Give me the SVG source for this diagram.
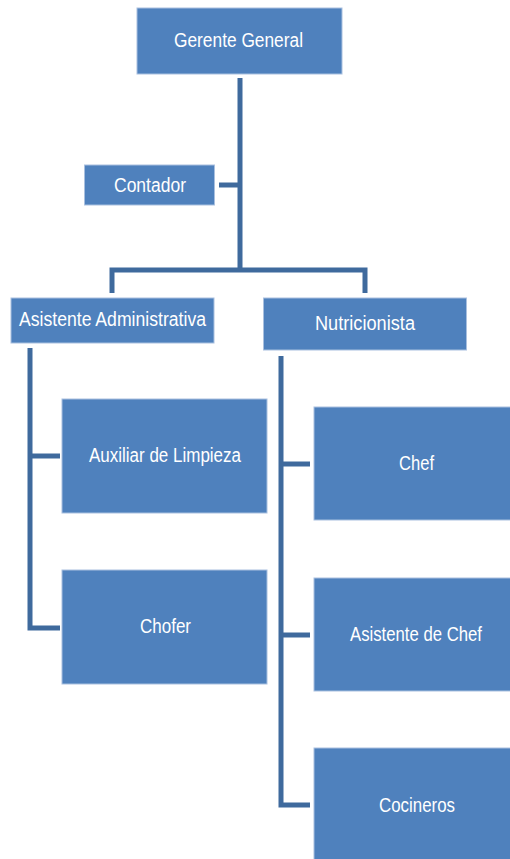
<svg xmlns="http://www.w3.org/2000/svg" width="510" height="859" viewBox="0 0 510 859">
  <style>
    .box { fill: #4F81BD; stroke: #A9C0DF; stroke-width: 1; }
    .lbl { fill: #FFFFFF; font-family: "Liberation Sans", Arial, sans-serif; font-size: 20px; text-anchor: middle; }
    .wire { fill: none; stroke: #3F6A9D; stroke-width: 5; stroke-linejoin: miter; }
  </style>
  <rect width="510" height="859" fill="#FFFFFF"/>

  <!-- connectors -->
  <g id="connectors">
    <path class="wire" d="M240 78 V270"/>
    <path class="wire" d="M219 185 H240"/>
    <path class="wire" d="M112 293 V270 H365 V293"/>
    <path class="wire" d="M30 348 V628 H60"/>
    <path class="wire" d="M30 456 H60"/>
    <path class="wire" d="M281 356 V805 H310"/>
    <path class="wire" d="M281 464 H310"/>
    <path class="wire" d="M281 635 H310"/>
  </g>

  <!-- organisation nodes -->
  <g id="gerente-general">
    <rect class="box" x="137" y="8" width="205" height="66"/>
    <text class="lbl" x="238.5" y="46.5" textLength="129" lengthAdjust="spacingAndGlyphs">Gerente  General</text>
  </g>
  <g id="contador">
    <rect class="box" x="84.5" y="165" width="130" height="40"/>
    <text class="lbl" x="150" y="192" textLength="72" lengthAdjust="spacingAndGlyphs">Contador</text>
  </g>
  <g id="asistente-administrativa">
    <rect class="box" x="11" y="298" width="203" height="45"/>
    <text class="lbl" x="112.5" y="326" textLength="187" lengthAdjust="spacingAndGlyphs">Asistente Administrativa</text>
  </g>
  <g id="nutricionista">
    <rect class="box" x="263.5" y="298" width="203" height="52"/>
    <text class="lbl" x="365" y="330" textLength="100" lengthAdjust="spacingAndGlyphs">Nutricionista</text>
  </g>
  <g id="auxiliar-limpieza">
    <rect class="box" x="62" y="399" width="205" height="114"/>
    <text class="lbl" x="165" y="462" textLength="152" lengthAdjust="spacingAndGlyphs">Auxiliar de Limpieza</text>
  </g>
  <g id="chofer">
    <rect class="box" x="62" y="570" width="205" height="114"/>
    <text class="lbl" x="165.5" y="633" textLength="51" lengthAdjust="spacingAndGlyphs">Chofer</text>
  </g>
  <g id="chef">
    <rect class="box" x="314" y="407" width="200" height="113"/>
    <text class="lbl" x="416.5" y="470" textLength="35" lengthAdjust="spacingAndGlyphs">Chef</text>
  </g>
  <g id="asistente-chef">
    <rect class="box" x="314" y="578" width="200" height="113"/>
    <text class="lbl" x="416" y="640.5" textLength="132" lengthAdjust="spacingAndGlyphs">Asistente de Chef</text>
  </g>
  <g id="cocineros">
    <rect class="box" x="314" y="748" width="200" height="115"/>
    <text class="lbl" x="417" y="811.5" textLength="76" lengthAdjust="spacingAndGlyphs">Cocineros</text>
  </g>
</svg>
